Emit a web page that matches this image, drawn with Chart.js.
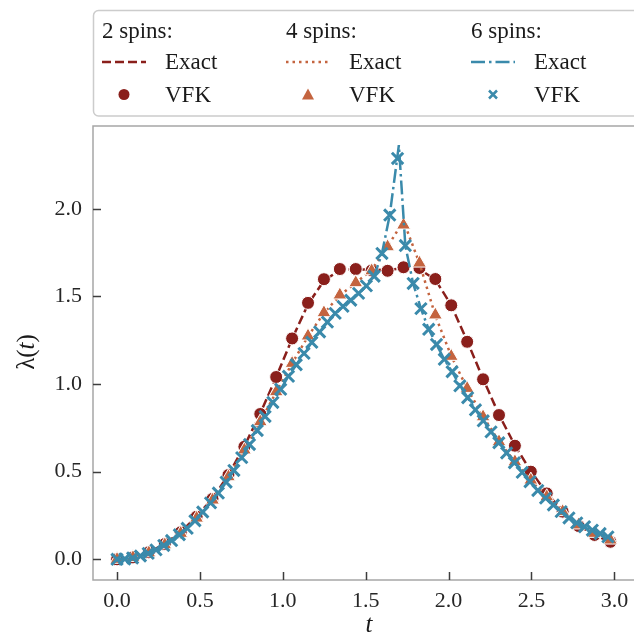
<!DOCTYPE html>
<html>
<head>
<meta charset="utf-8">
<script src="https://cdn.jsdelivr.net/npm/chart.js@4.4.1/dist/chart.umd.min.js"></script>
<style>
  html, body { margin: 0; padding: 0; background: #ffffff; overflow: hidden; }
  #wrap { position: relative; width: 634px; height: 637px; overflow: hidden; }
  #c { position: absolute; left: 0; top: 0; }
</style>
</head>
<body>
<div id="wrap"><canvas id="c" width="660" height="637"></canvas></div>
<script>
// ---------------- data ----------------
const xTicks = [0, 0.5, 1.0, 1.5, 2.0, 2.5, 3.0];
const yTicks = [0, 0.5, 1.0, 1.5, 2.0];

const seriesNames = ['2 spins:', '4 spins:', '6 spins:'];

// time grid of the 2- and 4-spin VFK points (and exact curves)
const tCoarse = [0, 0.096, 0.192, 0.288, 0.384, 0.48, 0.576, 0.672, 0.768, 0.864,
  0.96, 1.056, 1.152, 1.248, 1.344, 1.44, 1.536, 1.632, 1.728, 1.824,
  1.92, 2.016, 2.112, 2.208, 2.304, 2.4, 2.496, 2.592, 2.688, 2.784, 2.88, 2.976];

const vfk2 = [0, 0.011, 0.04, 0.087, 0.154, 0.243, 0.345, 0.481, 0.642, 0.829,
  1.04, 1.26, 1.463, 1.598, 1.656, 1.656, 1.648, 1.646, 1.666, 1.662,
  1.599, 1.449, 1.241, 1.027, 0.823, 0.648, 0.50, 0.376, 0.272, 0.19, 0.139, 0.10];

const exact2 = [0, 0.01, 0.04, 0.088, 0.155, 0.245, 0.347, 0.483, 0.645, 0.832,
  1.04, 1.258, 1.455, 1.59, 1.65, 1.655, 1.652, 1.65, 1.66, 1.655,
  1.595, 1.45, 1.245, 1.03, 0.825, 0.65, 0.502, 0.378, 0.274, 0.192, 0.14, 0.10];

const vfk4 = [0, 0.01, 0.037, 0.083, 0.148, 0.235, 0.338, 0.471, 0.624, 0.785,
  0.956, 1.118, 1.274, 1.407, 1.508, 1.578, 1.646, 1.783, 1.907, 1.69,
  1.394, 1.158, 0.975, 0.813, 0.671, 0.557, 0.452, 0.357, 0.272, 0.196, 0.148, 0.11];

const exact4 = [0, 0.01, 0.037, 0.083, 0.148, 0.235, 0.338, 0.47, 0.622, 0.785,
  0.955, 1.118, 1.272, 1.405, 1.505, 1.578, 1.65, 1.785, 1.93, 1.69,
  1.39, 1.16, 0.975, 0.815, 0.672, 0.557, 0.452, 0.357, 0.272, 0.197, 0.148, 0.11];

// time grid of the 6-spin VFK points
const tFine = [0, 0.047, 0.094, 0.141, 0.188, 0.235, 0.282, 0.329, 0.376, 0.423,
  0.47, 0.517, 0.564, 0.611, 0.658, 0.705, 0.752, 0.799, 0.846, 0.893,
  0.94, 0.987, 1.034, 1.081, 1.128, 1.175, 1.222, 1.269, 1.316, 1.363,
  1.41, 1.457, 1.504, 1.551, 1.598, 1.645, 1.692, 1.739, 1.786, 1.833,
  1.88, 1.927, 1.974, 2.021, 2.068, 2.115, 2.162, 2.209, 2.256, 2.303,
  2.35, 2.397, 2.444, 2.491, 2.538, 2.585, 2.632, 2.679, 2.726, 2.773,
  2.82, 2.867, 2.914, 2.961];

const vfk6 = [0, 0.002, 0.008, 0.019, 0.034, 0.054, 0.079, 0.107, 0.14, 0.177,
  0.22, 0.27, 0.322, 0.378, 0.44, 0.507, 0.58, 0.655, 0.735, 0.815,
  0.895, 0.97, 1.044, 1.11, 1.175, 1.238, 1.297, 1.353, 1.403, 1.443,
  1.478, 1.517, 1.56, 1.615, 1.745, 1.964, 2.287, 1.79, 1.574, 1.43,
  1.312, 1.226, 1.141, 1.07, 0.99, 0.922, 0.853, 0.79, 0.727, 0.665,
  0.607, 0.551, 0.496, 0.443, 0.393, 0.349, 0.31, 0.272, 0.236, 0.208,
  0.186, 0.166, 0.147, 0.128];

// exact 6-spin curve (same grid, with its sharp maximum)
const tExact6 = [0, 0.047, 0.094, 0.141, 0.188, 0.235, 0.282, 0.329, 0.376, 0.423,
  0.47, 0.517, 0.564, 0.611, 0.658, 0.705, 0.752, 0.799, 0.846, 0.893,
  0.94, 0.987, 1.034, 1.081, 1.128, 1.175, 1.222, 1.269, 1.316, 1.363,
  1.41, 1.457, 1.504, 1.551, 1.598, 1.645, 1.70, 1.739, 1.786, 1.833,
  1.88, 1.927, 1.974, 2.021, 2.068, 2.115, 2.162, 2.209, 2.256, 2.303,
  2.35, 2.397, 2.444, 2.491, 2.538, 2.585, 2.632, 2.679, 2.726, 2.773,
  2.82, 2.867, 2.914, 2.961];

const exact6 = [0, 0.002, 0.008, 0.019, 0.034, 0.054, 0.079, 0.107, 0.14, 0.177,
  0.22, 0.27, 0.322, 0.378, 0.44, 0.507, 0.58, 0.655, 0.735, 0.815,
  0.895, 0.97, 1.044, 1.11, 1.175, 1.238, 1.297, 1.353, 1.403, 1.443,
  1.478, 1.517, 1.56, 1.615, 1.745, 1.964, 2.363, 1.79, 1.574, 1.43,
  1.312, 1.226, 1.141, 1.07, 0.99, 0.922, 0.853, 0.79, 0.727, 0.665,
  0.607, 0.551, 0.496, 0.443, 0.393, 0.349, 0.31, 0.272, 0.236, 0.208,
  0.186, 0.166, 0.147, 0.128];

// ---------------- style ----------------
const RED = '#8a1f1b', ORANGE = '#c4643f', BLUE = '#3a8aab';
const FONT = "'Liberation Serif', 'DejaVu Serif', serif";
const DASH2 = [9, 4], DASH4 = [2.5, 4], DASH6 = [14, 4, 2.5, 4];

const pts = (xs, ys) => xs.map((x, i) => ({ x: x, y: ys[i] }));

const decor = {
  id: 'decor',
  afterDraw(chart) {
    const ctx = chart.ctx, a = chart.chartArea, sx = chart.scales.x, sy = chart.scales.y;
    ctx.save();
    // spines (the right spine lies outside the visible crop)
    ctx.strokeStyle = '#a6a6a6';
    ctx.lineWidth = 1.5;
    ctx.beginPath();
    ctx.moveTo(a.right, a.top); ctx.lineTo(a.left, a.top);
    ctx.lineTo(a.left, a.bottom); ctx.lineTo(a.right, a.bottom);
    ctx.stroke();
    // inward ticks
    ctx.strokeStyle = '#3d3d3d';
    ctx.lineWidth = 1.5;
    ctx.beginPath();
    xTicks.forEach(v => { const p = Math.round(sx.getPixelForValue(v)) + 0.5; ctx.moveTo(p, a.bottom); ctx.lineTo(p, a.bottom - 8); });
    yTicks.forEach(v => { const p = Math.round(sy.getPixelForValue(v)) + 0.5; ctx.moveTo(a.left, p); ctx.lineTo(a.left + 8, p); });
    ctx.stroke();

    // axis titles
    ctx.fillStyle = '#1a1a1a';
    ctx.textBaseline = 'middle';
    ctx.textAlign = 'center';
    ctx.font = 'italic 25px ' + FONT;
    ctx.fillText('t', 369, 625);
    // y title: λ(t) rotated
    ctx.save();
    ctx.translate(27, 352);
    ctx.rotate(-Math.PI / 2);
    ctx.textAlign = 'left';
    const parts = [['λ(', 'normal'], ['t', 'italic'], [')', 'normal']];
    let w = 0;
    parts.forEach(p => { ctx.font = p[1] + ' 25px ' + FONT; w += ctx.measureText(p[0]).width; });
    let cx = -w / 2;
    parts.forEach(p => { ctx.font = p[1] + ' 25px ' + FONT; ctx.fillText(p[0], cx, 0); cx += ctx.measureText(p[0]).width; });
    ctx.restore();

    // legend box
    ctx.fillStyle = 'rgba(255,255,255,0.9)';
    ctx.strokeStyle = '#cccccc';
    ctx.lineWidth = 1.5;
    ctx.beginPath();
    ctx.roundRect(93.5, 10.5, 620, 105.5, 5);
    ctx.fill();
    ctx.stroke();

    const cols = [
      { x: 102, name: seriesNames[0], color: RED, dash: DASH2, m: 'circle' },
      { x: 286, name: seriesNames[1], color: ORANGE, dash: DASH4, m: 'triangle' },
      { x: 471, name: seriesNames[2], color: BLUE, dash: DASH6, m: 'cross' }
    ];
    cols.forEach(c => {
      ctx.fillStyle = '#1a1a1a';
      ctx.font = '23px ' + FONT;
      ctx.textAlign = 'left';
      ctx.textBaseline = 'alphabetic';
      ctx.fillText(c.name, c.x, 37.5);
      ctx.fillText('Exact', c.x + 63, 69);
      ctx.fillText('VFK', c.x + 63, 101.5);
      // line sample
      ctx.strokeStyle = c.color;
      ctx.lineWidth = 2.5;
      ctx.setLineDash(c.dash);
      ctx.beginPath();
      ctx.moveTo(c.x, 62); ctx.lineTo(c.x + 44, 62);
      ctx.stroke();
      ctx.setLineDash([]);
      // marker sample
      const mx = c.x + 22, my = 94.5;
      ctx.fillStyle = c.color;
      if (c.m === 'circle') {
        ctx.beginPath(); ctx.arc(mx, my, 5.5, 0, Math.PI * 2); ctx.fill();
      } else if (c.m === 'triangle') {
        ctx.beginPath(); ctx.moveTo(mx, my - 6); ctx.lineTo(mx + 6, my + 5); ctx.lineTo(mx - 6, my + 5); ctx.closePath(); ctx.fill();
      } else {
        ctx.lineWidth = 2.5;
        ctx.beginPath();
        ctx.moveTo(mx - 4, my - 4); ctx.lineTo(mx + 4, my + 4);
        ctx.moveTo(mx + 4, my - 4); ctx.lineTo(mx - 4, my + 4);
        ctx.stroke();
      }
    });
    ctx.restore();
  }
};

const lineDs = (label, data, color, dash, order) => ({
  label, data, showLine: true, borderColor: color, backgroundColor: color,
  borderWidth: 2.5, borderDash: dash, pointRadius: 0, pointHoverRadius: 0,
  tension: 0, order
});

new Chart(document.getElementById('c'), {
  type: 'scatter',
  data: {
    datasets: [
      lineDs('Exact (2 spins)', pts(tCoarse, exact2), RED, DASH2, 5),
      { label: 'VFK (2 spins)', data: pts(tCoarse, vfk2), pointStyle: 'circle', pointRadius: 6.5,
        backgroundColor: RED, borderColor: '#ffffff', borderWidth: 1, order: 4 },
      lineDs('Exact (4 spins)', pts(tCoarse, exact4), ORANGE, DASH4, 3),
      { label: 'VFK (4 spins)', data: pts(tCoarse, vfk4), pointStyle: 'triangle', pointRadius: 8,
        backgroundColor: ORANGE, borderColor: '#ffffff', borderWidth: 1, order: 2 },
      lineDs('Exact (6 spins)', pts(tExact6, exact6), BLUE, DASH6, 1),
      { label: 'VFK (6 spins)', data: pts(tFine, vfk6), pointStyle: 'crossRot', pointRadius: 8,
        backgroundColor: BLUE, borderColor: BLUE, borderWidth: 3, order: 0 }
    ]
  },
  options: {
    responsive: false,
    devicePixelRatio: 1,
    animation: false,
    layout: { padding: { top: 126, left: 0, right: 0, bottom: 0 } },
    plugins: { legend: { display: false }, tooltip: { enabled: false } },
    scales: {
      x: {
        type: 'linear', min: -0.145, max: 3.2088,
        afterBuildTicks: s => { s.ticks = xTicks.map(v => ({ value: v })); },
        afterFit: s => { s.height = 57; s.paddingLeft = 0; s.paddingRight = 0; },
        grid: { display: false, drawTicks: false, tickLength: 0 },
        border: { display: false },
        ticks: { callback: v => Number(v).toFixed(1), font: { family: FONT, size: 22 }, color: '#262626',
                 padding: 8, maxRotation: 0, autoSkip: false }
      },
      y: {
        type: 'linear', min: -0.118, max: 2.472,
        afterBuildTicks: s => { s.ticks = yTicks.map(v => ({ value: v })); },
        afterFit: s => { s.width = 93; s.paddingTop = 0; s.paddingBottom = 0; },
        grid: { display: false, drawTicks: false, tickLength: 0 },
        border: { display: false },
        ticks: { callback: v => Number(v).toFixed(1), font: { family: FONT, size: 22 }, color: '#262626',
                 padding: 11, autoSkip: false }
      }
    }
  },
  plugins: [decor]
});
</script>
</body>
</html>
